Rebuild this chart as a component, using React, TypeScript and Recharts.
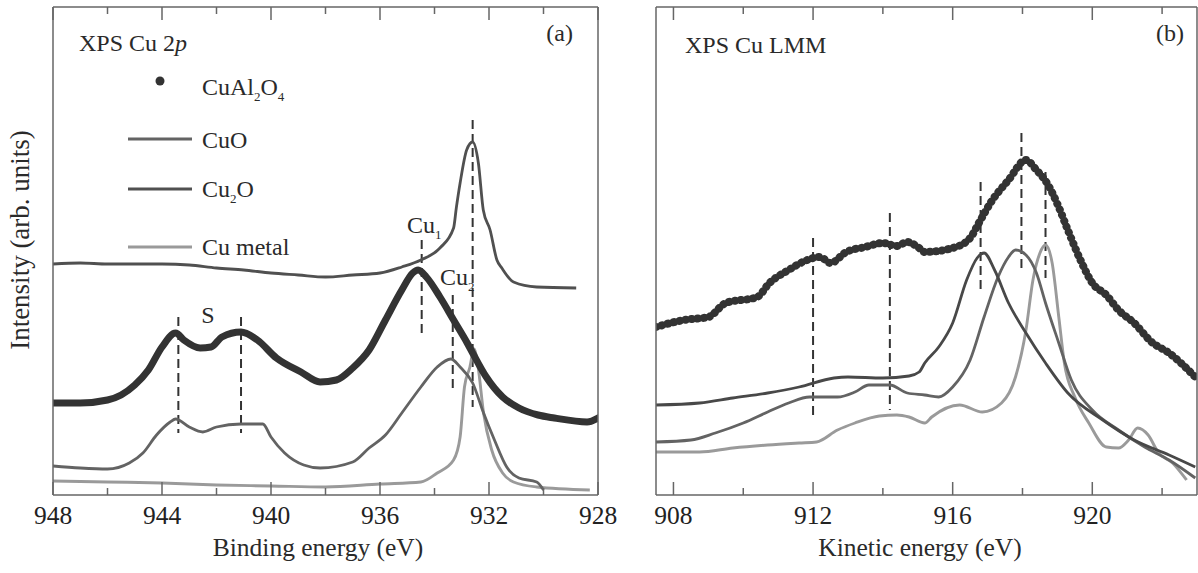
import React from 'react';
import { ComposedChart, Line, XAxis, YAxis, ReferenceLine } from 'recharts';

const FONT = "'Liberation Serif', 'Times New Roman', Times, 'DejaVu Serif', serif";
const FRAME = '#666';

// Panel (a): XPS Cu 2p, binding energy (eV), intensity in arb. units
const bindingTicks = [948, 946, 944, 942, 940, 938, 936, 934, 932, 930, 928];
const bindingLabels = [948, 944, 940, 936, 932, 928];

const cu2pCuAl2O4E = [948, 947, 946, 945.5, 945, 944.5, 944, 943.5, 943.2, 942.6, 942.2, 941.8, 941.1, 940.5, 939.8, 938.9, 938.2, 937.6, 937, 936.4, 935.8, 935.2, 934.8, 934.6, 934.3, 933.8, 933.3, 932.8, 932.6, 932.1, 931.5, 930.9, 930.2, 929.6, 928.4, 928];
const cu2pCuAl2O4I = [92, 92, 95, 100, 110, 125, 148, 162, 155, 147, 148, 158, 163, 155, 137, 123, 113, 115, 127, 145, 175, 205, 222, 225, 218, 198, 175, 152, 142, 118, 98, 87, 80, 77, 73, 77];

const cu2pCu2OE = [948, 947, 946, 945, 944, 943, 942, 941, 940, 939, 938, 937, 936, 935.2, 934.5, 933.8, 933.3, 933.2, 933.06, 932.82, 932.6, 932.39, 932.21, 931.96, 931.71, 931.53, 931.1, 930.25, 928.8];
const cu2pCu2OI = [231, 232, 231, 231, 231, 230, 227, 225, 222, 220, 218, 220, 222, 228, 235, 247, 267, 287, 312, 345, 353, 332, 285, 265, 235, 227, 213, 208, 207];

const cu2pCuOE = [948, 947, 946, 945.2, 944.7, 944.2, 943.7, 943.5, 943, 942.5, 942, 941.1, 940.3, 940, 939.5, 938.8, 938.2, 937, 936.4, 935.8, 935.2, 934.5, 933.9, 933.4, 933.06, 932.6, 932.2, 931.8, 931.35, 930.9, 930.25, 930];
const cu2pCuOI = [29, 27, 26, 32, 42, 60, 73, 76, 68, 63, 68, 71, 71, 58, 42, 30, 27, 33, 47, 60, 82, 108, 128, 136, 128, 112, 82, 55, 28, 17, 13, 5];

const cu2pMetalE = [948, 946, 944, 942, 940, 938, 936, 934.5, 933.9, 933.3, 933.06, 932.9, 932.7, 932.55, 932.4, 932.2, 931.9, 931.5, 931.1, 930.25, 928.3];
const cu2pMetalI = [14, 13, 12, 10, 9, 8, 11, 13, 22, 35, 58, 108, 128, 146, 128, 82, 45, 22, 13, 8, 5];

// dashed markers: energy, top and bottom intensity
const cu2pMarkE = [943.4, 941.1, 934.47, 933.33, 932.6];
const cu2pMarkTop = [178, 178, 255, 200, 375];
const cu2pMarkBottom = [62, 62, 160, 103, 88];

// Panel (b): XPS Cu LMM, kinetic energy (eV)
const kineticTicks = [908, 910, 912, 914, 916, 918, 920, 922];
const kineticLabels = [908, 912, 916, 920];

const lmmCuAl2O4E = [907.5, 908.3, 909, 909.5, 910.4, 910.75, 911.3, 911.7, 912.2, 912.5, 912.95, 913.5, 914, 914.4, 914.7, 915.04, 915.2, 916, 916.5, 916.75, 917.1, 917.6, 918.1, 918.4, 918.7, 919.05, 919.3, 919.7, 920, 920.4, 920.75, 921.2, 921.7, 922.2, 922.95];
const lmmCuAl2O4I = [168, 175, 178, 192, 198, 212, 225, 233, 238, 232, 243, 248, 252, 249, 253, 247, 243, 247, 257, 272, 293, 315, 335, 325, 312, 287, 265, 232, 212, 200, 185, 172, 153, 142, 118];

const lmmCu2OE = [907.5, 908.75, 909.7, 910.7, 911.6, 912.6, 913, 914, 914.75, 915.04, 915.2, 915.6, 916, 916.4, 916.7, 916.9, 917.2, 917.6, 918.1, 918.66, 919.3, 920.3, 921.2, 922.2, 922.95];
const lmmCu2OI = [90, 92, 97, 102, 108, 117, 118, 117, 119, 123, 132, 148, 172, 215, 237, 242, 225, 192, 162, 132, 102, 75, 55, 40, 28];

const lmmCuOE = [907.5, 908.5, 909.2, 910, 910.7, 911.3, 911.9, 912.7, 913.2, 913.6, 914.2, 914.7, 915.2, 915.6, 916, 916.5, 916.9, 917.3, 917.6, 917.8, 918.1, 918.4, 918.66, 919.04, 919.4, 920, 920.75, 921.5, 922.2, 922.95];
const lmmCuOI = [53, 55, 62, 72, 83, 92, 98, 98, 103, 110, 110, 102, 100, 98, 108, 135, 178, 218, 238, 245, 240, 222, 192, 152, 115, 85, 65, 48, 35, 17];

const lmmMetalE = [907.5, 908.75, 909.7, 910.7, 911.6, 912.1, 912.7, 913.2, 913.9, 914.4, 914.75, 915.2, 915.4, 916.2, 916.85, 917.4, 917.8, 918.1, 918.3, 918.5, 918.66, 918.85, 919.04, 919.2, 919.5, 919.9, 920.4, 920.75, 921.04, 921.3, 921.6, 921.9, 922.3, 922.7];
const lmmMetalI = [43, 43, 47, 50, 52, 53, 65, 72, 79, 80, 78, 72, 78, 90, 83, 92, 118, 165, 215, 242, 250, 232, 178, 132, 98, 72, 48, 47, 55, 67, 60, 42, 32, 15];

const lmmMarkE = [912, 914.2, 916.8, 917.97, 918.66];
const lmmMarkTop = [257, 282, 313, 362, 323];
const lmmMarkBottom = [77, 85, 202, 225, 217];

const toPoints = (e: number[], v: number[]) => e.map((x, k) => ({ e: x, v: v[k] }));

const FrameTick = (props: any) => {
  const { x, y, payload, labels, side } = props;
  const major = labels.includes(payload.value);
  const len = major ? 13 : 7;
  const dir = side === 'bottom' ? -1 : 1;
  return (
    <g>
      <line x1={x} x2={x} y1={y} y2={y + dir * len} stroke={FRAME} strokeWidth={1.5} />
      {side === 'bottom' && major && (
        <text x={x} y={y + 29} textAnchor="middle" style={{ fontFamily: FONT, fontSize: 25.5, fill: '#222' }}>
          {payload.value}
        </text>
      )}
    </g>
  );
};

interface PanelProps {
  left: number;
  width: number;
  margin: { top: number; right: number; bottom: number; left: number };
  domain: [number, number];
  reversed: boolean;
  ticks: number[];
  labels: number[];
  marks: { e: number[]; top: number[]; bottom: number[] };
  children: React.ReactNode;
}

const axisLine = { stroke: FRAME, strokeWidth: 1.5 };

const Panel = ({ left, width, margin, domain, reversed, ticks, labels, marks, children }: PanelProps) => (
  <div style={{ position: 'absolute', left, top: 0 }}>
    <ComposedChart width={width} height={573} margin={margin}>
      <XAxis
        dataKey="e"
        type="number"
        domain={domain}
        reversed={reversed}
        ticks={ticks}
        interval={0}
        height={1}
        tickLine={false}
        tickSize={0}
        tickMargin={0}
        axisLine={axisLine}
        tick={<FrameTick labels={labels} side="bottom" />}
        allowDataOverflow
      />
      <XAxis
        xAxisId="top"
        orientation="top"
        dataKey="e"
        type="number"
        domain={domain}
        reversed={reversed}
        ticks={ticks}
        interval={0}
        height={1}
        tickLine={false}
        tickSize={0}
        tickMargin={0}
        axisLine={axisLine}
        tick={<FrameTick labels={labels} side="top" />}
        allowDataOverflow
      />
      <YAxis type="number" domain={[0, 488]} width={1} tick={false} tickLine={false} axisLine={axisLine} allowDataOverflow />
      <YAxis yAxisId="r" orientation="right" type="number" domain={[0, 488]} width={1} tick={false} tickLine={false} axisLine={axisLine} allowDataOverflow />
      {marks.e.map((e, k) => (
        <ReferenceLine
          key={k}
          segment={[{ x: e, y: marks.top[k] }, { x: e, y: marks.bottom[k] }]}
          stroke="#333"
          strokeWidth={2}
          strokeDasharray="9 5"
          ifOverflow="visible"
        />
      ))}
      {children}
    </ComposedChart>
  </div>
);

const Sub = ({ children }: { children: React.ReactNode }) => (
  <tspan dy={6} style={{ fontSize: 13 }}>{children}</tspan>
);

export default function App() {
  const txt = { style: { fontFamily: FONT, fontSize: 24, fill: '#2a2a2a' } };
  const big = { style: { fontFamily: FONT, fontSize: 25.5, fill: '#2a2a2a' } };
  return (
    <div style={{ position: 'absolute', left: 0, top: 0, width: 1198, height: 573, background: '#fff' }}>
      <Panel
        left={0}
        width={620}
        margin={{ top: 6, right: 21, bottom: 77, left: 52 }}
        domain={[928, 948]}
        reversed
        ticks={bindingTicks}
        labels={bindingLabels}
        marks={{ e: cu2pMarkE, top: cu2pMarkTop, bottom: cu2pMarkBottom }}
      >
        <Line data={toPoints(cu2pMetalE, cu2pMetalI)} dataKey="v" type="monotone" stroke="#9a9a9a" strokeWidth={2.9} dot={false} isAnimationActive={false} />
        <Line data={toPoints(cu2pCuOE, cu2pCuOI)} dataKey="v" type="monotone" stroke="#636363" strokeWidth={2.8} dot={false} isAnimationActive={false} />
        <Line data={toPoints(cu2pCu2OE, cu2pCu2OI)} dataKey="v" type="monotone" stroke="#505050" strokeWidth={2.8} dot={false} isAnimationActive={false} />
        <Line data={toPoints(cu2pCuAl2O4E, cu2pCuAl2O4I)} dataKey="v" type="monotone" stroke="#333" strokeWidth={7} strokeLinejoin="round" strokeLinecap="round" dot={false} isAnimationActive={false} />
      </Panel>
      <Panel
        left={600}
        width={598}
        margin={{ top: 6, right: 0, bottom: 77, left: 55 }}
        domain={[907.5, 923]}
        reversed={false}
        ticks={kineticTicks}
        labels={kineticLabels}
        marks={{ e: lmmMarkE, top: lmmMarkTop, bottom: lmmMarkBottom }}
      >
        <Line data={toPoints(lmmMetalE, lmmMetalI)} dataKey="v" type="monotone" stroke="#9a9a9a" strokeWidth={2.9} dot={false} isAnimationActive={false} />
        <Line data={toPoints(lmmCuOE, lmmCuOI)} dataKey="v" type="monotone" stroke="#636363" strokeWidth={2.8} dot={false} isAnimationActive={false} />
        <Line data={toPoints(lmmCu2OE, lmmCu2OI)} dataKey="v" type="monotone" stroke="#484848" strokeWidth={2.8} dot={false} isAnimationActive={false} />
        <Line data={toPoints(lmmCuAl2O4E, lmmCuAl2O4I)} dataKey="v" type="monotone" stroke="#333" strokeWidth={8} strokeDasharray="0.1 6" strokeLinecap="round" dot={false} isAnimationActive={false} />
      </Panel>

      {/* text layer: titles, legend, peak labels */}
      <svg width={1198} height={573} style={{ position: 'absolute', left: 0, top: 0, pointerEvents: 'none' }}>
        <text style={{ fontFamily: FONT, fontSize: 27, fill: '#2a2a2a' }} transform="translate(29,240) rotate(-90)" textAnchor="middle">Intensity (arb. units)</text>
        <text {...big} x={318} y={556} textAnchor="middle">Binding energy (eV)</text>
        <text {...big} x={920} y={556} textAnchor="middle">Kinetic energy (eV)</text>

        <text {...txt} x={79} y={51}>XPS Cu 2<tspan style={{ fontStyle: 'italic' }}>p</tspan></text>
        <text {...txt} x={573} y={41} textAnchor="end">(a)</text>
        <text {...txt} x={685} y={53}>XPS Cu LMM</text>
        <text {...txt} x={1184} y={41} textAnchor="end">(b)</text>

        <circle cx={160} cy={81} r={4.5} fill="#333" />
        <text {...txt} x={202} y={95}>CuAl<Sub>2</Sub><tspan dy={-6}>O</tspan><Sub>4</Sub></text>
        <line x1={128} x2={192} y1={139} y2={139} stroke="#636363" strokeWidth={2.8} />
        <text {...txt} x={202} y={148}>CuO</text>
        <line x1={128} x2={192} y1={189} y2={189} stroke="#505050" strokeWidth={3.2} />
        <text {...txt} x={202} y={197}>Cu<Sub>2</Sub><tspan dy={-6}>O</tspan></text>
        <line x1={128} x2={192} y1={247} y2={247} stroke="#9a9a9a" strokeWidth={3.2} />
        <text {...txt} x={202} y={255}>Cu metal</text>

        <text {...txt} x={208} y={323} textAnchor="middle">S</text>
        <text {...txt} x={407} y={233}>Cu<Sub>1</Sub></text>
        <text {...txt} x={440} y={285}>Cu<Sub>2</Sub></text>
      </svg>
    </div>
  );
}
